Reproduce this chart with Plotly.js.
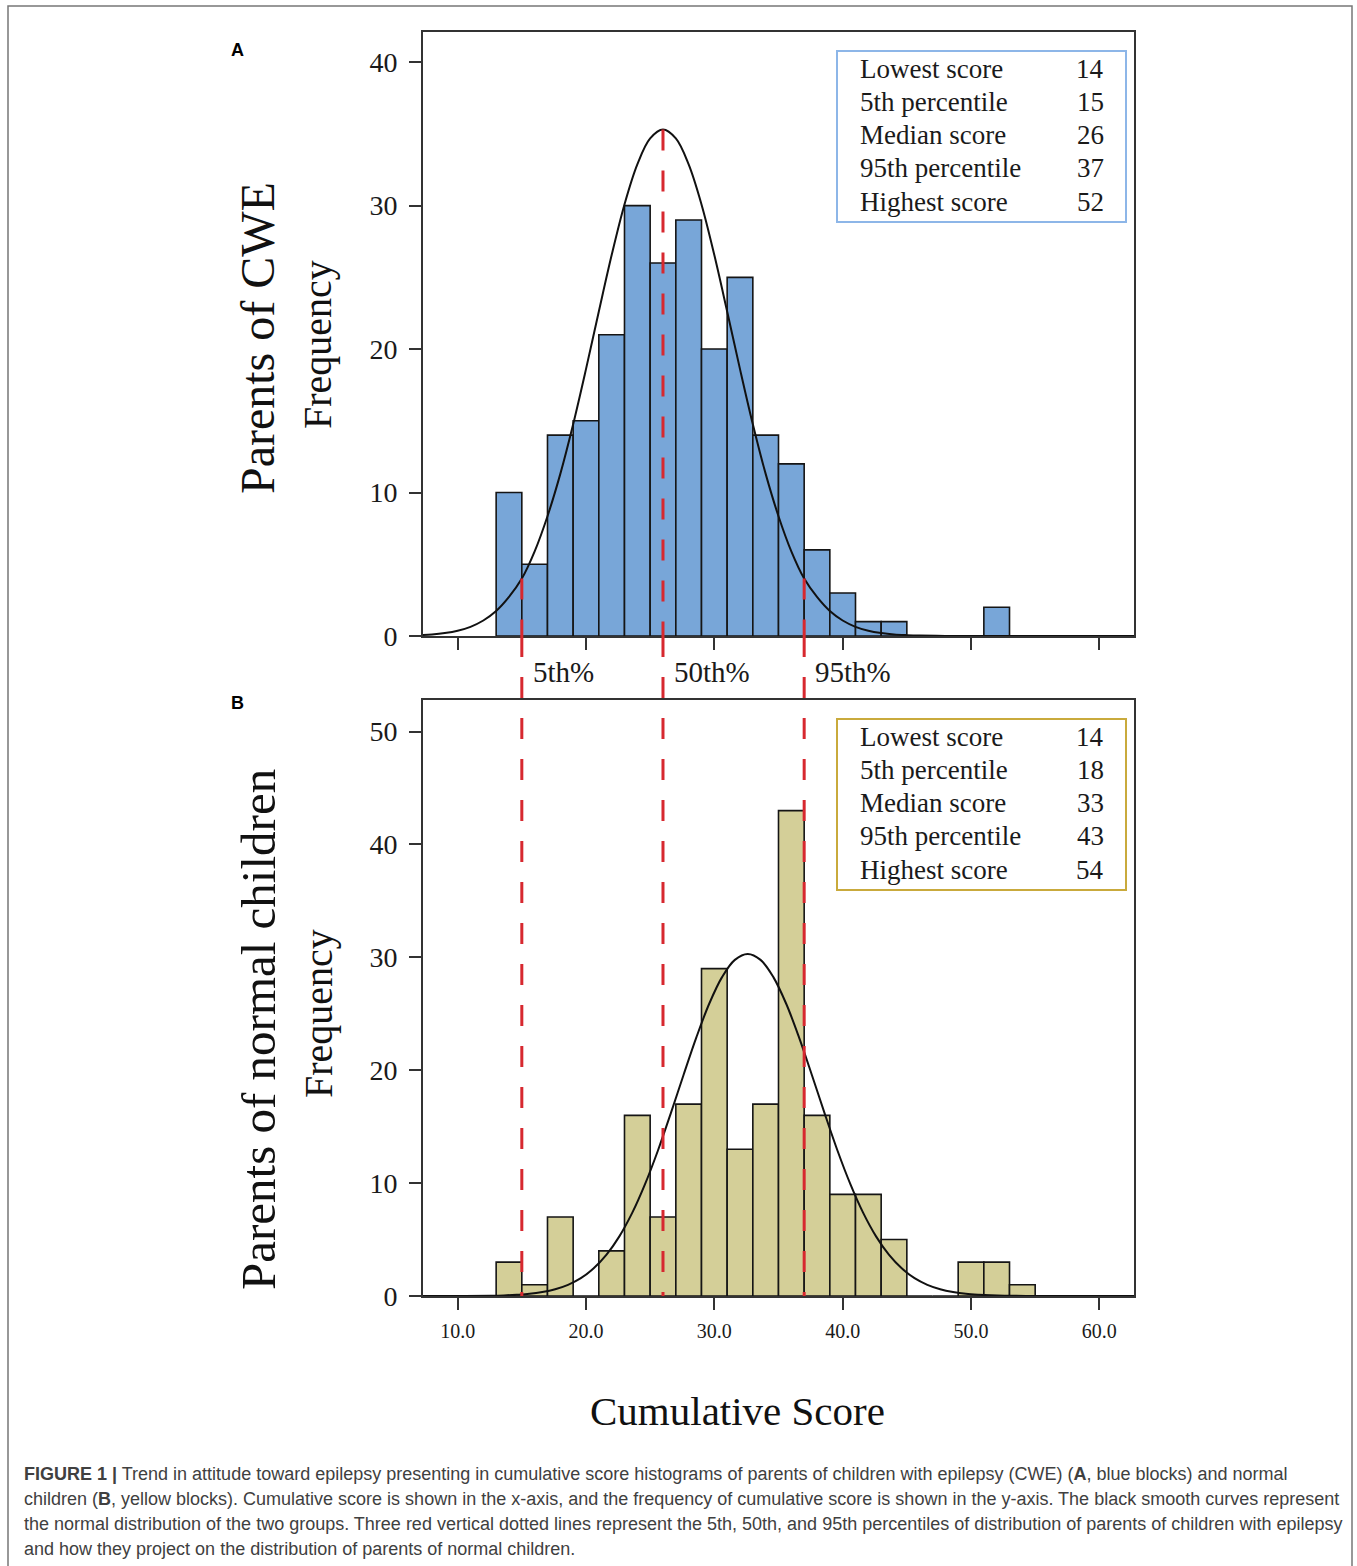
<!DOCTYPE html>
<html>
<head>
<meta charset="utf-8">
<script src="https://cdn.plot.ly/plotly-3.0.1.min.js"></script>
<style>html,body{margin:0;padding:0;background:#fff;}#chart{width:1357px;height:1566px;}</style>
</head>
<body>
<div id="chart"></div>
<script>
// ---------- data ----------
const binsA = [14,16,18,20,22,24,26,28,30,32,34,36,38,40,42,44,46,48,50,52];
const countsA = [10,5,14,15,21,30,26,29,20,25,14,12,6,3,1,1,0,0,0,2];

const binsB = [14,16,18,20,22,24,26,28,30,32,34,36,38,40,42,44,46,48,50,52,54];
const countsB = [3,1,7,0,4,16,7,17,29,13,17,43,16,9,9,5,0,0,3,3,1];

// normal curves
const curveAx = [7.3,8,9,10,11,12,13,14,15,16,17,18,19,20,21,22,23,24,25,26,27,28,29,30,31,32,33,34,35,36,37,38,39,40,41,42,43,44,45,46,48,50,55,62.7];
const curveAy = [0.07,0.11,0.21,0.37,0.64,1.08,1.74,2.72,4.0,5.9,8.35,11.30,14.76,18.60,22.62,26.55,30.08,32.87,34.68,35.3,34.68,32.87,30.08,26.55,22.62,18.60,14.76,11.30,8.35,5.9,4.0,2.72,1.74,1.08,0.64,0.37,0.21,0.11,0.06,0.03,0.006,0,0,0];

const curveBx = [7.3,10.6,12.6,13.6,14.6,15.6,16.6,17.6,18.6,19.6,20.6,21.6,22.6,23.6,24.6,25.6,26.6,27.6,28.6,29.6,30.6,31.6,32.6,33.6,34.6,35.6,36.6,37.6,38.6,39.6,40.6,41.6,42.6,43.6,44.6,45.6,46.6,47.6,48.6,49.6,50.6,52.6,54.6,57.6,62.7];
const curveBy = [0,0.006,0.028,0.055,0.11,0.19,0.35,0.60,0.99,1.58,2.45,3.66,5.28,7.36,9.91,12.87,16.16,19.58,22.91,25.89,28.25,29.78,30.3,29.78,28.25,25.89,22.91,19.58,16.16,12.87,9.91,7.36,5.28,3.66,2.45,1.58,0.99,0.60,0.35,0.19,0.11,0.028,0.006,0,0];

const percentiles = [15, 26, 37];
const percentileLabels = ["5th%", "50th%", "95th%"];

const statLabels = ["Lowest score","5th percentile","Median score","95th percentile","Highest score"];
const statsA = [14,15,26,37,52];
const statsB = [14,18,33,43,54];

const xTickVals = [10,20,30,40,50,60];
const xTickText = ["10.0","20.0","30.0","40.0","50.0","60.0"];
const yTicksA = [0,10,20,30,40];
const yTicksB = [0,10,20,30,40,50];

const captionLines = [
  "<b>FIGURE 1 |</b> Trend in attitude toward epilepsy presenting in cumulative score histograms of parents of children with epilepsy (CWE) (<b>A</b>, blue blocks) and normal",
  "children (<b>B</b>, yellow blocks). Cumulative score is shown in the x-axis, and the frequency of cumulative score is shown in the y-axis. The black smooth curves represent",
  "the normal distribution of the two groups. Three red vertical dotted lines represent the 5th, 50th, and 95th percentiles of distribution of parents of children with epilepsy",
  "and how they project on the distribution of parents of normal children."
];

// ---------- layout helpers ----------
const W = 1357, H = 1566;
const px = v => v / W;
const py = v => 1 - v / H;
const SERIF = "Liberation Serif, Times New Roman, serif";
const SANS = "Liberation Sans, Arial, sans-serif";
const AX = "#333333";
const RED = "#d7282f";

const domX = [px(423), px(1134)];
const domYA = [py(636), py(32)];
const domYB = [py(1296), py(700)];

const traces = [
  {type:"bar", x:binsA, y:countsA, width:2, xaxis:"x", yaxis:"y",
   marker:{color:"#78a6d8", line:{color:"#151515", width:1.6}}, hoverinfo:"skip"},
  {type:"scatter", mode:"lines", x:curveAx, y:curveAy, xaxis:"x", yaxis:"y",
   line:{color:"#111", width:2, shape:"spline", smoothing:1}, hoverinfo:"skip"},
  {type:"bar", x:binsB, y:countsB, width:2, xaxis:"x2", yaxis:"y2",
   marker:{color:"#d4cf98", line:{color:"#151515", width:1.6}}, hoverinfo:"skip"},
  {type:"scatter", mode:"lines", x:curveBx, y:curveBy, xaxis:"x2", yaxis:"y2",
   line:{color:"#111", width:2, shape:"spline", smoothing:1}, hoverinfo:"skip"}
];

const shapes = [];
const annotations = [];

// page frame
shapes.push({type:"rect", xref:"paper", yref:"paper", x0:px(8), x1:px(1352), y0:-0.02, y1:py(6),
  line:{color:"#777", width:1.5}, fillcolor:"rgba(0,0,0,0)", layer:"below"});

// percentile lines
percentiles.forEach((p, i) => {
  const idx = curveAx.indexOf(p);
  const top = idx >= 0 ? curveAy[idx] : 0;
  shapes.push({type:"line", xref:"x", yref:"y", x0:p, x1:p, y0:top, y1:0,
    line:{color:RED, width:3, dash:"21px,20px"}});
  shapes.push({type:"line", xref:"x2", yref:"paper", x0:p, x1:p, y0:domYA[0], y1:domYB[0],
    line:{color:RED, width:3, dash:"21px,20px"}});
  annotations.push({xref:"x", yref:"paper", x:p, y:py(672), xanchor:"left", yanchor:"middle",
    xshift:9, text:percentileLabels[i], showarrow:false, font:{family:SERIF, size:29, color:"#1a1a1a"}});
});

// stats boxes
function statBox(top, bottom, color, values) {
  shapes.push({type:"rect", xref:"paper", yref:"paper", x0:px(837), x1:px(1126), y0:py(bottom), y1:py(top),
    line:{color:color, width:2}, fillcolor:"#ffffff"});
  statLabels.forEach((lab, i) => {
    const yc = top + 17.5 + i * 33.3;
    annotations.push({xref:"paper", yref:"paper", x:px(858), y:py(yc), xanchor:"left", yanchor:"middle",
      text:lab, showarrow:false, font:{family:SERIF, size:27, color:"#1a1a1a"}});
    annotations.push({xref:"paper", yref:"paper", x:px(1106), y:py(yc), xanchor:"right", yanchor:"middle",
      text:String(values[i]), showarrow:false, font:{family:SERIF, size:27, color:"#1a1a1a"}});
  });
}
statBox(51, 222, "#8db6e8", statsA);
statBox(719, 890, "#c9aa3c", statsB);

// panel letters
annotations.push({xref:"paper", yref:"paper", x:px(237), y:py(50), text:"<b>A</b>", showarrow:false,
  xanchor:"center", yanchor:"middle", font:{family:SANS, size:18, color:"#000"}});
annotations.push({xref:"paper", yref:"paper", x:px(237), y:py(703), text:"<b>B</b>", showarrow:false,
  xanchor:"center", yanchor:"middle", font:{family:SANS, size:18, color:"#000"}});

// rotated axis labels
annotations.push({xref:"paper", yref:"paper", x:px(258), y:py(338), text:"Parents of CWE", textangle:-90,
  showarrow:false, xanchor:"center", yanchor:"middle", font:{family:SERIF, size:48, color:"#111"}});
annotations.push({xref:"paper", yref:"paper", x:px(318), y:py(345), text:"Frequency", textangle:-90,
  showarrow:false, xanchor:"center", yanchor:"middle", font:{family:SERIF, size:40, color:"#111"}});
annotations.push({xref:"paper", yref:"paper", x:px(258), y:py(1030), text:"Parents of normal children", textangle:-90,
  showarrow:false, xanchor:"center", yanchor:"middle", font:{family:SERIF, size:49, color:"#111"}});
annotations.push({xref:"paper", yref:"paper", x:px(318), y:py(1014), text:"Frequency", textangle:-90,
  showarrow:false, xanchor:"center", yanchor:"middle", font:{family:SERIF, size:40, color:"#111"}});

// x title
annotations.push({xref:"paper", yref:"paper", x:px(737), y:py(1411), text:"Cumulative Score",
  showarrow:false, xanchor:"center", yanchor:"middle", font:{family:SERIF, size:41, color:"#111"}});

// caption
captionLines.forEach((t, i) => {
  annotations.push({xref:"paper", yref:"paper", x:px(22), y:py(1474 + i * 25), text:t, align:"left",
    showarrow:false, xanchor:"left", yanchor:"middle", font:{family:SANS, size:18, color:"#404040"}});
});

const baseX = {
  domain:domX, range:[7.3, 62.7], showline:true, linecolor:AX, linewidth:2, mirror:true,
  ticks:"outside", ticklen:12, tickwidth:2, tickcolor:AX, tickvals:xTickVals,
  showgrid:false, zeroline:false, fixedrange:true
};
const baseY = {
  showline:true, linecolor:AX, linewidth:2, mirror:true,
  ticks:"outside", ticklen:12, tickwidth:2, tickcolor:AX, ticklabelstandoff:6,
  showgrid:false, zeroline:false, fixedrange:true,
  tickfont:{family:SERIF, size:28, color:"#1a1a1a"}
};

const layout = {
  width:W, height:H, margin:{l:0, r:0, t:0, b:0},
  paper_bgcolor:"#ffffff", plot_bgcolor:"#ffffff", showlegend:false,
  xaxis:Object.assign({}, baseX, {anchor:"y", showticklabels:false}),
  yaxis:Object.assign({}, baseY, {domain:domYA, range:[0, 42.1], tickvals:yTicksA, anchor:"x"}),
  xaxis2:Object.assign({}, baseX, {anchor:"y2", ticktext:xTickText, ticklabelstandoff:4,
    tickfont:{family:SERIF, size:20, color:"#1a1a1a"}}),
  yaxis2:Object.assign({}, baseY, {domain:domYB, range:[0, 52.8], tickvals:yTicksB, anchor:"x2"}),
  shapes:shapes, annotations:annotations
};

Plotly.newPlot("chart", traces, layout, {staticPlot:true, displayModeBar:false});
</script>
</body>
</html>
